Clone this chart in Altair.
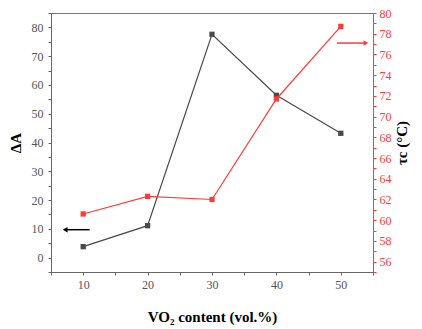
import altair as alt
import pandas as pd

content = [10, 20, 30, 40, 50]
delta_a = [3.8, 11.1, 77.6, 56.4, 43.2]
tau_c = [60.6, 62.3, 62.0, 71.7, 78.7]

# arrow annotations (data coordinates)
black_arrow_x = [7.2, 11.0]
black_arrow_y = [9.7]
red_arrow_x = [49.4, 53.9]
red_arrow_y = [77.1]

FONT = "Liberation Serif"
BLACK = "#4a4a4a"
RED = "#ff3b3b"

df = pd.DataFrame({"x": content, "a": delta_a, "t": tau_c})
ba = pd.DataFrame({"x": [black_arrow_x[0]], "x2": [black_arrow_x[1]], "a": black_arrow_y})
ra = pd.DataFrame({"x": [red_arrow_x[0]], "x2": [red_arrow_x[1]], "t": red_arrow_y})

xscale = alt.Scale(domain=[5, 55], nice=False, zero=False)
xaxis = alt.Axis(
    values=list(range(5, 56, 5)),
    labelExpr="datum.value % 10 == 0 ? datum.label : ''",
    title="VO₂ content (vol.%)",
    titleFont=FONT, titleFontSize=15, titleFontWeight="bold", titleColor="black",
    titlePadding=19,
    labelFont=FONT, labelFontSize=12, labelColor="#555", labelPadding=4,
    domainColor="#666", tickColor="#666", tickSize=3,
    grid=False,
)

lscale = alt.Scale(domain=[-5, 85], nice=False, zero=False)
laxis = alt.Axis(
    orient="left",
    values=list(range(-5, 86, 5)),
    labelExpr="(datum.value % 10 == 0 && datum.value >= 0 && datum.value <= 80) ? datum.label : ''",
    title="ΔA",
    titleFont=FONT, titleFontSize=15, titleFontWeight="bold", titleColor="black",
    titlePadding=8,
    labelFont=FONT, labelFontSize=12, labelColor="#555", labelPadding=5,
    domainColor="#666", tickColor="#666", tickSize=3,
    grid=False,
)

rscale = alt.Scale(domain=[55, 80], nice=False, zero=False)
raxis = alt.Axis(
    orient="right",
    values=list(range(55, 81, 1)),
    labelExpr="(datum.value % 2 == 0) ? datum.label : ''",
    title="τc (°C)",
    titleAngle=270,
    titleFont=FONT, titleFontSize=15, titleFontWeight="bold", titleColor="black",
    titlePadding=18,
    labelFont=FONT, labelFontSize=12, labelColor=RED, labelPadding=3,
    domainColor=RED, tickColor=RED, tickSize=3,
    grid=False,
)

black_line = alt.Chart(df).mark_line(
    color=BLACK, strokeWidth=1.2,
    point=alt.OverlayMarkDef(shape="square", filled=True, size=28, color=BLACK),
).encode(
    x=alt.X("x:Q", scale=xscale, axis=xaxis),
    y=alt.Y("a:Q", scale=lscale, axis=laxis),
)
black_rule = alt.Chart(ba).mark_rule(color="black", strokeWidth=1.5).encode(
    x=alt.X("x:Q", scale=xscale, axis=xaxis), x2="x2:Q",
    y=alt.Y("a:Q", scale=lscale, axis=laxis),
)
black_head = alt.Chart(ba).mark_point(
    shape="triangle-left", filled=True, size=30, color="black", opacity=1
).encode(
    x=alt.X("x:Q", scale=xscale, axis=xaxis),
    y=alt.Y("a:Q", scale=lscale, axis=laxis),
)
left = alt.layer(black_line, black_rule, black_head)

red_line = alt.Chart(df).mark_line(
    color=RED, strokeWidth=1.2,
    point=alt.OverlayMarkDef(shape="square", filled=True, size=28, color=RED),
).encode(
    x=alt.X("x:Q", scale=xscale, axis=xaxis),
    y=alt.Y("t:Q", scale=rscale, axis=raxis),
)
red_rule = alt.Chart(ra).mark_rule(color=RED, strokeWidth=1.5).encode(
    x=alt.X("x:Q", scale=xscale, axis=xaxis), x2="x2:Q",
    y=alt.Y("t:Q", scale=rscale, axis=raxis),
)
red_head = alt.Chart(ra).mark_point(
    shape="triangle-right", filled=True, size=30, color=RED, opacity=1
).encode(
    x=alt.X("x2:Q", scale=xscale, axis=xaxis),
    y=alt.Y("t:Q", scale=rscale, axis=raxis),
)
right = alt.layer(red_line, red_rule, red_head)

chart = alt.layer(left, right).resolve_scale(y="independent").properties(
    width=322, height=259,
    autosize=alt.AutoSizeParams(type="none"),
    padding={"left": 51, "top": 13, "right": 49, "bottom": 57},
    background="white",
).configure_view(stroke="#777", strokeWidth=1)

chart.save("out.html", embed_options={"renderer": "svg", "actions": False})
